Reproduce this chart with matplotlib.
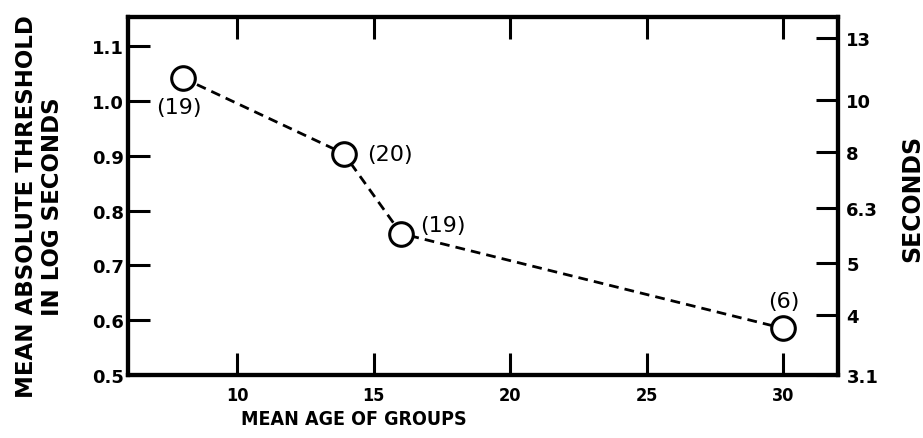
import numpy as np
import matplotlib
matplotlib.use("Agg")
import matplotlib.pyplot as plt

# Data
ages = [8, 13.9, 16, 30]
thresholds = [1.042, 0.904, 0.758, 0.585]
n_labels = ["(19)", "(20)", "(19)", "(6)"]
label_offsets = [(-3, -21), (33, 0), (30, 6), (0, 20)]

x_ticks = [10, 15, 20, 25, 30]
left_ticks = [0.5, 0.6, 0.7, 0.8, 0.9, 1.0, 1.1]
left_tick_labels = ["0.5", "0.6", "0.7", "0.8", "0.9", "1.0", "1.1"]
right_tick_values = [3.1, 4, 5, 6.3, 8, 10, 13]
right_tick_labels = ["3.1", "4", "5", "6.3", "8", "10", "13"]

plt.rcParams['font.family'] = ['DejaVu Sans']

fig = plt.figure(figsize=(9.23, 4.39), dpi=100)
ax = fig.add_axes([0.1387, 0.1435, 0.9079 - 0.1387, 0.959 - 0.1435])
ax.set_xlim(6, 32)
ax.set_ylim(0.5, 1.153)

ax.plot(ages, thresholds, linestyle=(0, (3.5, 2.2)), color='black', lw=2.0,
        marker='o', markersize=17, markerfacecolor='white',
        markeredgecolor='black', markeredgewidth=2.2, zorder=3)

for x, y, t, off in zip(ages, thresholds, n_labels, label_offsets):
    ax.annotate(t, (x, y), xytext=off, textcoords='offset points',
                ha='center', va='center', fontsize=16, color='black')

for s in ax.spines.values():
    s.set_linewidth(3)

ax.set_xticks(x_ticks)
ax.set_xticklabels([str(v) for v in x_ticks], fontsize=13, fontweight='bold',
                   fontstretch='condensed')
ax.set_yticks(left_ticks)
ax.set_yticklabels(left_tick_labels, fontsize=13, fontweight='bold')
ax.tick_params(axis='x', direction='in', length=16, width=2.2, top=True, pad=8)
ax.tick_params(axis='y', direction='in', length=16, width=2.2, right=False, pad=3)

ax2 = ax.twinx()
ax2.set_ylim(ax.get_ylim())
ax2.set_yticks(np.log10(right_tick_values))
ax2.set_yticklabels(right_tick_labels, fontsize=13, fontweight='bold')
ax2.tick_params(axis='y', direction='in', length=16, width=2.2, pad=6)
for s in ax2.spines.values():
    s.set_linewidth(3)

ax.set_xlabel("MEAN AGE OF GROUPS", fontsize=14, fontweight='bold',
              fontstretch='condensed')
ax.xaxis.set_label_coords(0.318, -0.095)
ax.set_ylabel("MEAN ABSOLUTE THRESHOLD\nIN LOG SECONDS", fontsize=16.5,
              fontweight='bold', linespacing=1.15)
ax.yaxis.set_label_coords(-0.090, 0.472)
ax2.set_ylabel("SECONDS", fontsize=17, fontweight='bold')
ax2.yaxis.set_label_coords(1.087, 0.495)

fig.savefig("out.png", dpi=100)
